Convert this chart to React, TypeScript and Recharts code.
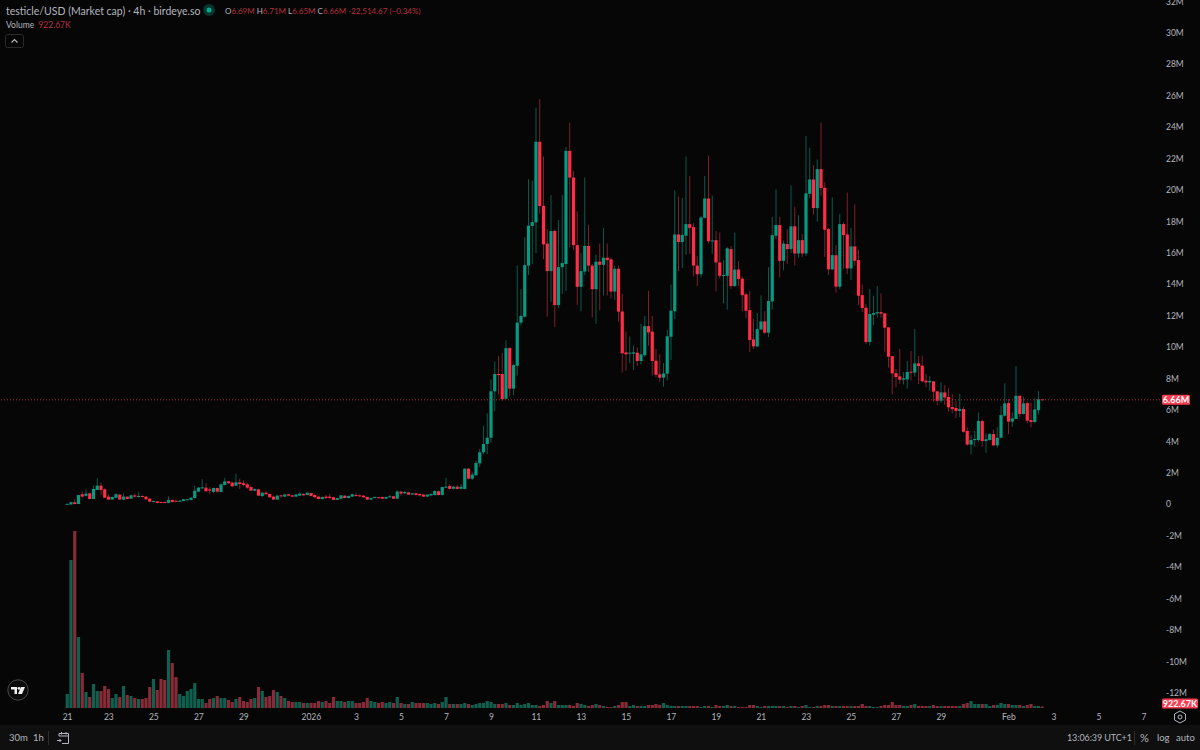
import React from 'react';
import {ComposedChart, Bar, XAxis, YAxis, ReferenceLine, Label} from 'recharts';

// 4h candles, in millions of market cap. Index 0 is Dec 21 04:00.
const opens = [
  0.02,0,0.14,0.03,0.65,0.55,0.71,0.35,0.92,1.2,
  0.96,0.5,0.31,0.43,0.63,0.31,0.5,0.37,0.58,0.5,
  0.54,0.5,0.37,0.18,0.2,0.16,0.16,0.1,0.29,0.24,
  0.18,0.22,0.28,0.29,0.41,0.82,1.05,1.07,0.96,0.8,
  1.05,0.8,1.24,1.47,1.39,1.2,1.41,1.35,1.28,1.11,
  0.88,0.96,0.54,0.75,0.67,0.5,0.31,0.58,0.5,0.65,
  0.58,0.5,0.56,0.67,0.6,0.73,0.6,0.5,0.35,0.5,
  0.5,0.46,0.29,0.37,0.56,0.41,0.5,0.6,0.58,0.56,
  0.48,0.31,0.41,0.46,0.48,0.37,0.46,0.52,0.37,0.82,
  0.71,0.77,0.63,0.71,0.67,0.63,0.5,0.58,0.6,0.84,
  0.6,1.09,1.18,1.0,1.13,1.0,0.99,2.28,1.64,1.86,
  2.62,3.32,3.85,4.25,7.2,8.3,8.3,6.73,9.95,7.37,
  8.83,11.57,11.95,15.2,17.72,17.95,23.08,19.0,16.6,14.85,
  17.4,12.69,15.1,15.3,22.5,20.8,16.5,13.85,14.82,16.45,
  15.2,13.7,15.45,15.25,15.7,15.6,13.55,15.0,12.28,9.68,
  9.6,9.6,9.66,9.13,9.5,11.35,11.0,9.15,8.28,8.07,
  8.32,10.67,12.3,17.18,16.7,17.1,17.84,17.65,15.2,14.65,
  18.24,19.47,16.75,16.82,15.4,14.55,14.55,16.25,13.9,14.95,
  14.37,13.37,12.37,10.5,10.06,11.14,11.65,10.93,12.92,17.1,
  17.78,15.5,16.57,16.25,17.7,15.97,16.82,15.97,19.77,20.68,
  18.86,21.34,20.15,17.52,14.96,15.86,13.86,17.84,17.18,15.02,
  16.42,15.55,13.32,12.52,10.34,12.08,12.16,12.24,12.16,11.27,
  9.44,8.36,8.15,7.94,7.96,8.45,8.39,8.98,8.83,7.88,
  7.77,7.84,7.2,6.6,7.13,6.84,6.2,6.14,5.95,6.07,
  4.68,3.81,4.1,4.1,5.31,4.04,4.1,4.48,3.76,4.25,
  5.65,6.45,5.27,5.44,6.92,5.76,6.45,5.37,5.25,6.0,
  6.69,
];
const closes = [
  0.04,0.14,0.03,0.6,0.5,0.69,0.35,0.99,1.2,0.92,
  0.43,0.31,0.48,0.65,0.31,0.5,0.35,0.58,0.5,0.54,
  0.48,0.33,0.18,0.22,0.1,0.1,0.1,0.29,0.16,0.18,
  0.24,0.33,0.33,0.43,0.88,1.07,1.09,0.84,0.88,1.05,
  0.82,1.28,1.47,1.35,1.16,1.41,1.3,1.24,1.07,0.88,
  0.99,0.56,0.75,0.65,0.46,0.31,0.56,0.54,0.63,0.56,
  0.5,0.63,0.69,0.58,0.75,0.54,0.46,0.35,0.48,0.41,
  0.41,0.29,0.41,0.58,0.41,0.54,0.65,0.54,0.52,0.46,
  0.31,0.41,0.48,0.41,0.37,0.48,0.52,0.37,0.82,0.69,
  0.8,0.63,0.71,0.6,0.58,0.5,0.63,0.67,0.86,0.6,
  1.11,1.13,0.99,1.13,0.99,1.13,2.28,1.64,1.9,2.64,
  3.32,3.85,4.25,7.2,8.3,8.25,6.7,9.95,7.37,8.87,
  11.57,12.0,15.23,17.74,17.97,23.08,18.99,16.55,14.85,17.4,
  12.69,15.1,15.36,22.5,20.8,16.5,13.85,14.85,16.45,15.2,
  13.7,15.45,15.25,15.7,15.55,13.55,15.0,12.27,9.62,9.55,
  9.66,9.68,9.13,9.55,11.35,10.95,9.13,8.25,8.07,8.34,
  10.7,12.33,17.18,16.7,17.15,17.84,17.6,15.2,14.65,18.26,
  19.47,16.75,16.8,15.4,14.55,14.6,16.3,13.9,14.95,14.35,
  13.32,12.33,10.47,10.06,11.16,11.65,10.93,12.95,17.14,17.78,
  15.5,16.6,16.25,17.7,15.97,16.82,15.97,19.8,20.68,18.86,
  21.34,20.13,17.48,14.96,15.87,13.86,17.84,17.14,15.02,16.42,
  15.51,13.28,12.5,10.34,12.12,12.18,12.24,12.14,11.25,9.4,
  8.34,8.11,7.94,8.03,8.43,8.39,8.98,8.81,7.84,7.77,
  7.86,7.18,6.6,7.13,6.8,6.18,6.07,5.95,6.07,4.63,
  3.81,4.1,4.17,5.31,4.04,4.15,4.48,3.76,4.25,5.69,
  6.43,5.27,5.48,6.92,5.76,6.43,5.33,5.25,6.05,6.69,
  6.66,
];
const highs = [
  0.05,0.18,0.33,0.62,0.82,0.95,0.75,1.22,1.68,1.4,
  1.05,0.64,0.5,0.72,0.65,0.72,0.52,0.63,0.7,0.78,
  0.58,0.55,0.4,0.25,0.22,0.18,0.18,0.52,0.33,0.28,
  0.28,0.36,0.35,0.47,1.18,1.1,1.6,1.35,1.1,1.07,
  1.07,1.32,1.7,1.5,1.45,1.95,1.65,1.55,1.4,1.18,
  1.02,1.0,0.78,0.88,0.7,0.55,0.62,0.6,0.7,0.68,
  0.6,0.68,0.78,0.7,0.78,0.75,0.68,0.53,0.5,0.6,
  0.68,0.5,0.43,0.6,0.6,0.58,0.7,0.75,0.65,0.6,
  0.5,0.43,0.5,0.48,0.5,0.5,0.6,0.54,0.92,0.85,
  0.85,0.8,0.75,0.75,0.7,0.65,0.66,0.7,0.9,0.9,
  1.13,1.7,1.3,1.18,1.25,1.3,2.3,2.33,2.05,2.8,
  3.55,5.0,5.8,7.95,9.1,9.45,9.65,10.45,10.0,8.95,
  15.2,13.7,17.0,20.7,20.6,25.25,25.8,22.15,17.5,19.7,
  17.5,18.1,19.7,22.75,24.3,21.2,18.65,16.0,20.8,17.8,
  15.3,15.9,16.6,17.6,16.6,15.7,15.2,15.2,13.4,11.0,
  10.7,10.1,10.0,11.5,12.0,13.6,12.0,9.9,9.55,9.0,
  11.1,14.0,20.0,19.6,19.5,22.15,20.9,17.9,15.8,18.35,
  20.9,22.2,19.65,17.4,17.3,15.55,16.4,16.45,17.3,15.5,
  14.5,13.5,13.6,11.8,12.2,13.3,12.3,15.1,18.3,20.05,
  18.3,16.8,17.5,20.3,18.95,18.4,17.2,23.45,22.7,21.6,
  21.95,24.3,20.5,17.6,19.55,16.5,18.5,17.95,19.85,17.6,
  19.1,16.2,14.0,12.75,13.7,13.28,13.9,13.43,12.16,11.27,
  9.44,8.62,9.9,8.41,9.13,9.76,11.16,9.44,9.47,8.3,
  8.17,7.84,7.2,7.77,7.6,7.39,7.03,6.6,7.03,6.22,
  4.91,4.42,4.68,5.86,5.42,4.53,4.53,4.78,4.91,6.27,
  7.71,6.71,5.86,8.81,6.92,6.86,6.54,6.5,6.75,7.2,
  6.71,
];
const lows = [
  0,0,0,0.03,0.43,0.5,0.33,0.35,0.92,0.58,
  0.43,0.3,0.3,0.4,0.3,0.28,0.33,0.35,0.45,0.45,
  0.45,0.3,0.13,0.17,0.08,0.08,0.06,0.08,0.12,0.13,
  0.16,0.2,0.26,0.27,0.4,0.8,0.98,0.82,0.65,0.72,
  0.75,0.78,1.2,1.3,1.1,1.18,0.98,1.15,1.0,0.85,
  0.85,0.54,0.48,0.62,0.43,0.29,0.29,0.41,0.47,0.52,
  0.48,0.46,0.54,0.56,0.58,0.52,0.43,0.33,0.3,0.35,
  0.37,0.27,0.27,0.35,0.39,0.39,0.48,0.5,0.46,0.41,
  0.29,0.27,0.39,0.39,0.33,0.35,0.43,0.35,0.35,0.56,
  0.65,0.6,0.6,0.58,0.52,0.48,0.48,0.56,0.58,0.58,
  0.58,1.05,0.95,0.95,0.95,0.95,0.97,1.6,1.55,1.8,
  2.4,3.2,3.2,3.95,5.95,7.0,6.6,6.7,6.9,6.95,
  8.2,11.4,11.9,14.6,15.3,16.0,18.5,15.6,11.95,12.9,
  11.3,12.5,13.4,13.6,16.35,16.2,12.7,12.3,14.6,14.8,
  11.9,11.5,12.35,13.3,13.3,13.1,13.0,11.65,8.4,8.5,
  9.0,8.55,8.8,8.9,9.4,10.1,8.2,8.1,7.8,7.5,
  7.9,9.2,11.8,14.85,15.05,15.9,15.95,14.5,13.9,14.45,
  18.2,16.6,15.95,13.55,14.4,12.8,12.4,13.7,13.85,13.9,
  12.3,11.85,9.7,9.9,10.0,11.1,10.85,10.65,12.4,16.9,
  14.45,14.9,15.3,16.0,15.2,15.7,15.75,15.8,19.5,18.45,
  18.0,19.65,15.75,14.6,14.9,13.47,13.7,15.0,14.65,14.28,
  15.2,12.7,12.25,10.2,10.1,11.42,11.88,11.88,9.72,8.72,
  7.0,7.45,7.7,7.64,7.37,7.92,8.13,7.66,7.77,7.45,
  7.24,6.54,6.33,6.44,6.33,5.9,5.8,5.5,5.55,4.57,
  3.74,3.19,3.68,3.98,3.68,3.29,4.06,3.72,3.61,4.2,
  5.59,4.48,4.95,5.44,5.59,5.73,5.16,4.91,5.2,5.73,
  6.65,
];
const volumes = [
  8.4,88.8,106.2,42.6,21,9.6,6.6,14.4,10.2,10.2,
  13.2,11.4,6,8.4,6.6,13.2,7.8,7.2,6,5.4,
  5.4,6,12.6,17.4,10.8,17.4,16.8,34.8,27,18.6,
  8.4,7.2,10.2,11.4,15,5.4,5.4,3,5.4,6,
  7.2,6,6,4.8,3.6,5.4,6.6,4.2,3.6,5.4,
  6,12.6,10.2,6.6,7.2,10.8,9.6,7.2,6,4.2,
  3.6,3.6,3.6,3,3,3,3,4.2,3.6,4.2,
  3,6.6,4.2,4.2,3.6,4.2,4.2,3,3,3.6,
  6,4.2,3.6,3,3.6,3,3.6,3,6.6,3,
  2.4,2.4,3.6,3,3,3,3,2.4,3,2.4,
  3.6,6.6,2.4,2.4,2.4,2.4,3,2.4,1.8,2.4,
  3,3,4.2,3.6,2.4,2.4,2.4,3,1.8,1.8,
  3,1.8,2.4,3,1.8,1.8,1.2,1.8,4.2,3,
  4.2,1.8,1.8,1.8,1.8,1.2,3,2.4,1.8,1.2,
  1.8,2.4,1.8,1.2,0.6,0.6,1.2,1.8,3.6,3.6,
  1.2,1.8,1.2,1.2,1.2,1.8,1.8,2.4,1.8,3,
  1.8,1.2,1.2,1.2,1.2,1.2,1.2,1.2,1.2,0.6,
  1.2,1.2,0.6,1.8,1.2,1.2,1.8,1.2,1.2,0.6,
  0.6,0.6,1.8,1.8,1.2,0.6,1.2,1.2,1.2,1.2,
  1.2,1.2,0.6,1.2,1.2,0.6,1.2,1.8,0.6,0.6,
  1.2,1.2,1.8,1.8,1.2,1.2,1.2,1.2,1.2,1.2,
  1.2,1.2,2.4,1.2,1.2,0.6,0.6,1.2,1.8,1.8,
  3.6,1.8,1.8,1.2,1.2,1.8,2.4,1.2,1.2,1.2,
  1.2,1.8,1.2,1.2,1.2,1.2,1.2,1.2,1.2,2.4,
  3,4.2,2.4,2.4,2.4,2.4,1.2,1.8,1.8,3,
  2.4,2.4,1.8,1.8,1.8,1.2,1.8,2.4,1.2,1.2,
  0.92,
];

const dateTicks = [0,11,23,35,47,65,77,89,101,113,125,137,149,161,173,185,197,209,221,233,251,263,275,287];
const dateLabels = ['21','23','25','27','29','2026','3','5','7','9','11','13','15','17','19','21','23','25','27','29','Feb','3','5','7'];
const priceTicks = [-12,-10,-8,-6,-4,-2,0,2,4,6,8,10,12,14,16,18,20,22,24,26,28,30,32];
const lastPrice = 6.66;
const lastVolume = 0.92;

const candles = opens.map((open, i) => ({
  i, open, close: closes[i], high: highs[i], low: lows[i], volume: volumes[i],
}));

const UP = '#089981';
const DOWN = '#ff2d46';
const UP_WICK = '#0a5a4c';
const DOWN_WICK = '#7d1f2c';
const UP_VOL = '#10604f';
const DOWN_VOL = '#862b37';
const TEXT = '#b2b5be';
const BG = '#060606';
const FONT = 'Lato, sans-serif';

const Candle = ({x, y, width, height, payload}: any) => {
  const {open, close, high, low} = payload;
  const unit = height / (high - low || 1);
  const top = y + (high - Math.max(open, close)) * unit;
  const bottom = y + (high - Math.min(open, close)) * unit;
  const cx = x + width / 2;
  const up = close >= open;
  return (
    <g>
      <rect x={cx - 0.5} y={y} width={1} height={Math.max(1, height)} fill={up ? UP_WICK : DOWN_WICK}/>
      <rect x={cx - 1.6} y={top} width={3.2} height={Math.max(1, bottom - top)} fill={up ? UP : DOWN}/>
    </g>
  );
};

const VolumeBar = ({x, y, width, height, payload}: any) => {
  const cx = x + width / 2;
  return (
    <rect x={cx - 1.6} y={y} width={3.2} height={height}
          fill={payload.close >= payload.open ? UP_VOL : DOWN_VOL}/>
  );
};

const tag = (text: string, w: number, clampY?: number) => ({viewBox}: any) => {
  const cy = clampY ?? viewBox.y;
  const left = viewBox.x + viewBox.width + 2;
  return (
    <g>
      <rect x={left} y={cy - 5} width={w} height={10} rx={1.5} fill="#fb3b50"/>
      <text x={left + w / 2} y={cy + 3} textAnchor="middle" fontSize={9} fontWeight={700} fontFamily={FONT} fill="#fff">{text}</text>
    </g>
  );
};

const abs = (left: number, top: number, extra: React.CSSProperties = {}): React.CSSProperties => ({
  position: 'absolute', left, top, whiteSpace: 'nowrap', fontFamily: FONT, color: TEXT, fontSize: 9, lineHeight: '14px', ...extra,
});

const RED = '#b8303f';

export default function App() {
  return (
    <div style={{position: 'absolute', left: 0, top: 0, width: 1200, height: 750, background: BG, overflow: 'hidden'}}>
      <ComposedChart width={1200} height={725} data={candles} margin={{top: 0, right: 0, bottom: 0, left: 0}}>
        <XAxis xAxisId="price" type="number" dataKey="i" domain={[-18.03, 291.3]} ticks={dateTicks} interval={0}
               tickFormatter={(v: number) => dateLabels[dateTicks.indexOf(v)]} height={17}
               axisLine={false} tickLine={false} tick={{fill: TEXT, fontSize: 8.5, fontFamily: FONT}} tickMargin={0}/>
        <XAxis xAxisId="volume" type="number" dataKey="i" domain={[-18.03, 291.3]} hide/>
        <YAxis yAxisId="price" orientation="right" width={40} domain={[-12.95, 32.1]} ticks={priceTicks} interval={0}
               allowDataOverflow tickFormatter={(v: number) => (v === 0 ? '0' : `${v}M`)}
               axisLine={false} tickLine={false} tick={{fill: TEXT, fontSize: 8.5, fontFamily: FONT}} tickMargin={0}/>
        <YAxis yAxisId="volume" orientation="right" domain={[0, 424.8]} allowDataOverflow hide/>
        <Bar xAxisId="volume" yAxisId="volume" dataKey="volume" barSize={3} shape={VolumeBar} isAnimationActive={false}/>
        <Bar xAxisId="price" yAxisId="price" dataKey={(d: any) => [d.low, d.high]} barSize={3} shape={Candle} isAnimationActive={false}/>
        <ReferenceLine xAxisId="price" yAxisId="price" y={lastPrice} stroke="#a5303c" strokeDasharray="1 2">
          <Label content={tag('6.66M', 28)}/>
        </ReferenceLine>
        <ReferenceLine xAxisId="volume" yAxisId="volume" y={lastVolume} stroke="none">
          <Label content={tag('922.67K', 36, 703.5)}/>
        </ReferenceLine>
      </ComposedChart>

      <div style={abs(6, 3, {fontSize: 10.5, lineHeight: '16px'})}>testicle/USD (Market cap) · 4h · birdeye.so</div>
      <svg style={{position: 'absolute', left: 202, top: 3}} width={14} height={14}>
        <circle cx={7} cy={7} r={6} fill="#08352d"/>
        <circle cx={7} cy={7} r={2.5} fill="#0aa88e"/>
      </svg>
      <div style={abs(225, 4, {fontSize: 8})}>
        O<span style={{color: RED}}>6.69M</span> H<span style={{color: RED}}>6.71M</span> L<span style={{color: RED}}>6.65M</span> C<span style={{color: RED}}>6.66M</span> <span style={{color: RED}}>-22,514.67 (−0.34%)</span>
      </div>
      <div style={abs(6, 18, {fontSize: 8.5})}>Volume <span style={{color: RED, marginLeft: 2}}>922.67K</span></div>
      <svg style={{position: 'absolute', left: 5, top: 34}} width={19} height={14}>
        <rect x={0.5} y={0.5} width={18} height={13} rx={2} fill="none" stroke="#2a2a2a"/>
        <path d="M6.5 8.5 L9.5 5.5 L12.5 8.5" fill="none" stroke={TEXT} strokeWidth={1.2}/>
      </svg>
      <svg style={{position: 'absolute', left: 7, top: 679}} width={22} height={22}>
        <circle cx={11} cy={11} r={10.2} fill="#0c0c0c" stroke="#4a4a4a"/>
        <path d="M4 8 H10 V15 H7.5 V10.5 H4 Z M11 15 L14 8 H18 L15 15 Z" fill="#f0f0f0"/>
        <circle cx={12} cy={9.3} r={1.4} fill="#f0f0f0"/>
      </svg>
      <svg style={{position: 'absolute', left: 1173, top: 710}} width={14} height={14}>
        <path d="M7 1 L12.5 4 V10 L7 13 L1.5 10 V4 Z" fill="none" stroke={TEXT}/>
        <circle cx={7} cy={7} r={2} fill="none" stroke={TEXT}/>
      </svg>

      <div style={{position: 'absolute', left: 0, top: 725, width: 1200, height: 25, background: '#0f0f0f'}}/>
      <div style={abs(9, 731, {fontSize: 9.5})}>30m</div>
      <div style={abs(33, 731, {fontSize: 9.5})}>1h</div>
      <div style={{position: 'absolute', left: 48, top: 731, width: 1, height: 14, background: '#2e2e2e'}}/>
      <svg style={{position: 'absolute', left: 56, top: 731}} width={14} height={14}>
        <path d="M3 5 V2.5 H12.5 V12.5 H6 M3 5 H12.5 M5.5 1 V3.5 M10 1 V3.5 M1 9.5 H5 M3.5 8 L5 9.5 L3.5 11" fill="none" stroke={TEXT}/>
      </svg>
      <div style={abs(1067, 731, {letterSpacing: -0.1})}>13:06:39 UTC+1</div>
      <div style={{position: 'absolute', left: 1134, top: 731, width: 1, height: 14, background: '#2e2e2e'}}/>
      <div style={abs(1140, 731, {fontSize: 11})}>%</div>
      <div style={abs(1157, 731, {fontSize: 9.5})}>log</div>
      <div style={abs(1176, 731, {fontSize: 9.5})}>auto</div>
    </div>
  );
}
